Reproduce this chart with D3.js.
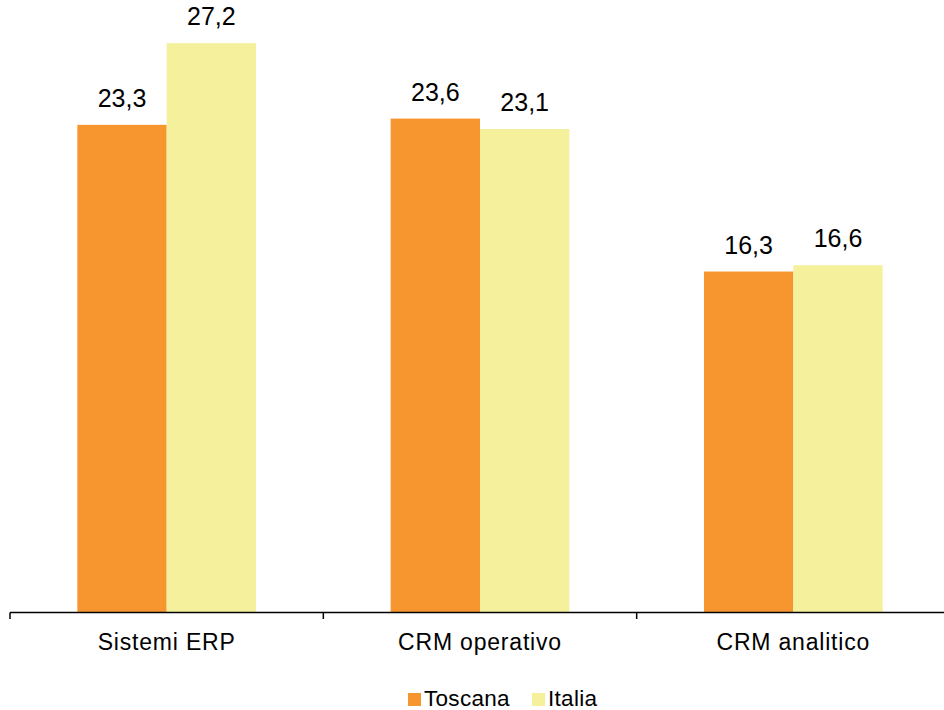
<!DOCTYPE html>
<html>
<head>
<meta charset="utf-8">
<script src="https://cdn.jsdelivr.net/npm/d3@7"></script>
<style>
  body { margin: 0; background: #fff; }
  svg { display: block; font-family: Arial, "Liberation Sans", sans-serif; }
</style>
</head>
<body>
<svg id="chart" width="944" height="710"></svg>
<script>
const categories = ["Sistemi ERP", "CRM operativo", "CRM analitico"];
const seriesNames = ["Toscana", "Italia"];
const toscana = [23.3, 23.6, 16.3];
const italia = [27.2, 23.1, 16.6];
const colors = ["#F7962E", "#F4F09B"];

const data = categories.map((c, i) => ({ cat: c, values: [toscana[i], italia[i]] }));

const svg = d3.select("#chart");
const baseline = 613;
const x = d3.scaleBand().domain(categories).range([10, 950]).paddingInner(0).paddingOuter(0);
const y = d3.scaleLinear().domain([0, 29.25]).range([baseline, baseline - 29.25 * 20.95]);

const groupW = 178.7;
const x1 = d3.scaleBand().domain(seriesNames).range([0, groupW]).padding(0);

const g = svg.append("g");
const groups = g.selectAll("g.cat").data(data).join("g")
  .attr("transform", d => `translate(${x(d.cat) + (x.bandwidth() - groupW) / 2},0)`);

groups.selectAll("rect").data(d => d.values.map((v, i) => ({ v, s: seriesNames[i], i })))
  .join("rect")
  .attr("x", d => x1(d.s))
  .attr("width", x1.bandwidth())
  .attr("y", d => y(d.v))
  .attr("height", d => baseline - y(d.v))
  .attr("fill", d => colors[d.i]);

groups.selectAll("text.val").data(d => d.values.map((v, i) => ({ v, s: seriesNames[i], i })))
  .join("text")
  .attr("class", "val")
  .attr("x", d => x1(d.s) + x1.bandwidth() / 2)
  .attr("y", d => y(d.v) - 18)
  .attr("text-anchor", "middle")
  .attr("font-size", 25)
  .attr("fill", "#000")
  .text(d => d3.format(".1f")(d.v).replace(".", ","));

// axis
svg.append("line").attr("x1", 10).attr("x2", 944).attr("y1", baseline - 0.5).attr("y2", baseline - 0.5)
  .attr("stroke", "#000").attr("stroke-width", 1.5);
const tickPositions = categories.map(c => x(c));
svg.selectAll("line.tick").data(tickPositions).join("line")
  .attr("class", "tick")
  .attr("x1", d => d).attr("x2", d => d)
  .attr("y1", baseline - 0.5).attr("y2", baseline + 6)
  .attr("stroke", "#000").attr("stroke-width", 1.5);

svg.selectAll("text.cat").data(categories).join("text")
  .attr("class", "cat")
  .attr("x", d => x(d) + x.bandwidth() / 2)
  .attr("y", 650)
  .attr("text-anchor", "middle")
  .attr("font-size", 23)
  .attr("letter-spacing", 0.8)
  .attr("fill", "#000")
  .text(d => d);

// legend
const legendX = [408, 532];
const leg = svg.selectAll("g.leg").data(seriesNames).join("g")
  .attr("class", "leg")
  .attr("transform", (d, i) => `translate(${legendX[i]},693)`);
leg.append("rect").attr("width", 13).attr("height", 13).attr("fill", (d, i) => colors[i]);
leg.append("text").attr("x", 16).attr("y", 13).attr("font-size", 22.5)
  .attr("letter-spacing", 0.3).attr("fill", "#000").text(d => d);
</script>
</body>
</html>
